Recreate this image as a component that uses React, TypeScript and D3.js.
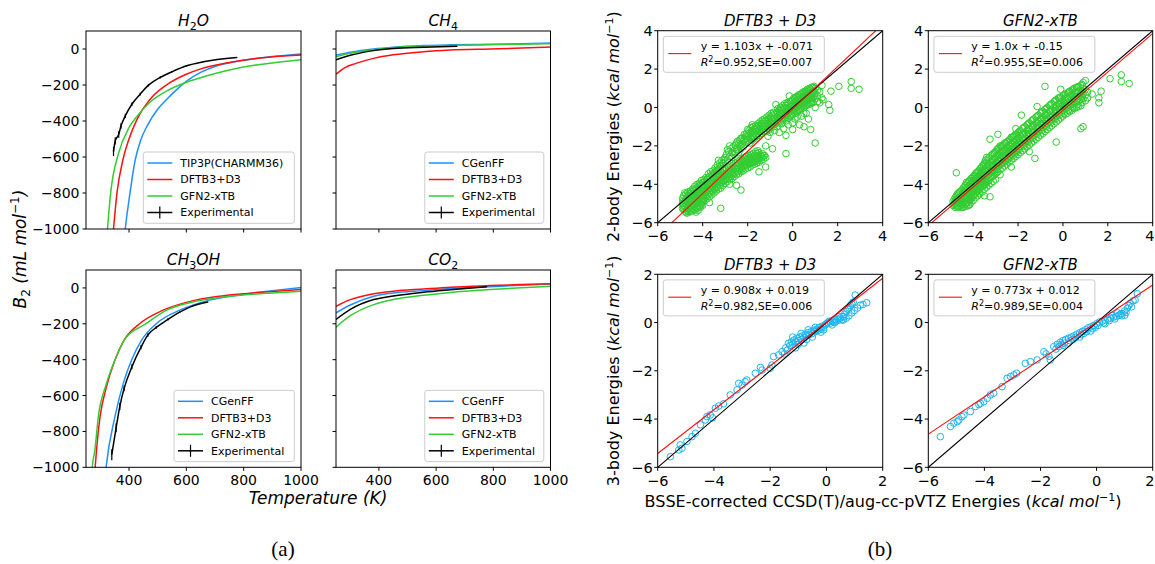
import React from "react";
import * as d3 from "d3";

const FONT = "'DejaVu Sans', sans-serif";

// ---------- Left figure (a): B2 vs temperature ----------
const T_DOMAIN = [250, 1000];
const B2_DOMAIN = [-1000, 100];
const T_TICKS = [400, 600, 800, 1000];
const B2_TICKS = [0, -200, -400, -600, -800, -1000];

const H2O_TIP3P_T = [380, 387, 400, 422, 440, 463, 500, 532, 570, 602, 650, 707, 800, 900, 1000];
const H2O_TIP3P_B = [-1120, -1000, -840, -614, -510, -428, -335, -279, -220, -177, -130, -93, -62, -42, -28];
const H2O_DFTB_T = [340, 346, 358, 379, 400, 428, 474, 544, 600, 648, 750, 850, 1000];
const H2O_DFTB_B = [-1110, -1000, -801, -614, -500, -391, -279, -186, -140, -112, -75, -52, -34];
const H2O_GFN_T = [320, 325, 336, 364, 399, 430, 470, 532, 600, 672, 800, 900, 1000];
const H2O_GFN_B = [-1110, -1000, -801, -577, -440, -370, -300, -233, -185, -149, -100, -78, -60];
const H2O_EXP_T = [346, 352, 364, 372, 387, 410, 439, 468, 509, 549, 601, 659, 776];
const H2O_EXP_B = [-570, -510, -475, -428, -372, -307, -251, -201, -158, -127, -93, -71, -47];
const H2O_EXP_ERR = [25, 20, 18, 15, 12, 10, 8, 7, 6, 5, 4, 3, 3];

const CH4_CGENFF_T = [250, 300, 381, 450, 556, 650, 789, 900, 1000];
const CH4_CGENFF_B = [-34, -18, 0, 10, 19, 23, 26, 29, 33];
const CH4_DFTB_T = [250, 280, 320, 381, 450, 556, 650, 789, 900, 1000];
const CH4_DFTB_B = [-140, -105, -80, -52, -32, -15, -6, 0, 5, 11];
const CH4_GFN_T = [250, 300, 381, 450, 556, 650, 789, 900, 1000];
const CH4_GFN_B = [-43, -24, -4, 7, 16, 20, 24, 27, 29];
const CH4_EXP_T = [250, 300, 381, 450, 556, 673];
const CH4_EXP_B = [-60, -35, -9, 3, 10, 15];
const CH4_EXP_ERR = [2, 2, 2, 2, 2, 2];

const CH3OH_CGENFF_T = [315, 320, 351, 380, 409, 444, 496, 577, 681, 800, 900, 1000];
const CH3OH_CGENFF_B = [-1080, -1000, -718, -532, -402, -291, -198, -124, -68, -35, -15, 2];
const CH3OH_DFTB_T = [278, 282, 288, 299, 320, 351, 383, 438, 519, 632, 750, 900, 1000];
const CH3OH_DFTB_B = [-1080, -1000, -880, -718, -560, -402, -291, -198, -124, -68, -40, -20, -9];
const CH3OH_GFN_T = [270, 272, 281, 293, 320, 351, 383, 461, 531, 632, 750, 900, 1000];
const CH3OH_GFN_B = [-1080, -1000, -904, -718, -540, -402, -291, -198, -124, -75, -47, -28, -19];
const CH3OH_EXP_T = [340, 355, 368, 383, 410, 442, 466, 495, 536, 577, 623, 675];
const CH3OH_EXP_B = [-930, -780, -660, -560, -440, -330, -262, -220, -175, -135, -100, -78];
const CH3OH_EXP_ERR = [30, 25, 20, 16, 14, 12, 10, 8, 6, 5, 4, 3];

const CO2_T = [250, 300, 382, 450, 556, 650, 789, 900, 1000];
const CO2_CGENFF_B = [-139, -95, -46, -28, -15, -3, 7, 15, 22];
const CO2_DFTB_B = [-102, -65, -32, -18, -6, 4, 13, 19, 24];
const CO2_GFN_B = [-219, -155, -93, -65, -41, -25, -9, 1, 9];
const CO2_EXP_T = [250, 300, 382, 450, 556, 650, 777];
const CO2_EXP_B = [-176, -120, -65, -45, -24, -10, 7];
const CO2_EXP_ERR = [2, 2, 2, 2, 2, 2, 2];

const LEGEND_H2O = ["TIP3P(CHARMM36)", "DFTB3+D3", "GFN2-xTB", "Experimental"];
const LEGEND_OTHER = ["CGenFF", "DFTB3+D3", "GFN2-xTB", "Experimental"];

// ---------- Right figure (b): energies scatter ----------
const E_DOMAIN_TOP = [-6, 4];
const E_DOMAIN_BOT = [-6, 2];
const E_TICKS_TOP = [-6, -4, -2, 0, 2, 4];
const E_TICKS_BOT = [-6, -4, -2, 0, 2];

// columns: [x, [y values at that x]]
const DFTB3_2B: [number, number[]][] = [
  [-4.9, [-5.0, -5.25, -4.75]], [-4.8, [-4.45, -4.9, -5.15, -5.4]], [-4.7, [-4.6, -4.85, -5.1, -5.35, -5.5]],
  [-4.6, [-4.5, -4.75, -5.0, -5.25, -5.45]], [-4.5, [-4.4, -4.65, -4.9, -5.15, -5.4]], [-4.4, [-4.3, -4.55, -4.8, -5.05, -5.3]],
  [-4.3, [-4.2, -4.45, -4.7, -4.95, -5.2, -5.45]], [-4.2, [-4.1, -4.35, -4.6, -4.85, -5.1, -5.35]],
  [-4.1, [-4.0, -4.25, -4.5, -4.75, -5.0, -5.2]], [-4.0, [-3.9, -4.15, -4.4, -4.65, -4.9, -5.1]],
  [-3.9, [-3.85, -4.1, -4.35, -4.6, -4.85]], [-3.8, [-3.75, -4.0, -4.25, -4.5, -4.75]],
  [-3.7, [-3.6, -3.9, -4.15, -4.4, -4.65, -4.95]], [-3.6, [-3.5, -3.8, -4.05, -4.3, -4.55]],
  [-3.5, [-3.4, -3.65, -3.95, -4.2, -4.45]], [-3.4, [-3.3, -3.55, -3.85, -4.1, -4.35]],
  [-3.3, [-2.75, -3.2, -3.45, -3.75, -4.0, -4.25]], [-3.2, [-3.05, -3.35, -3.65, -3.9, -4.2, -5.25]],
  [-3.1, [-2.9, -3.2, -3.55, -3.8, -4.05]], [-3.0, [-2.6, -2.85, -3.45, -3.7, -3.95]],
  [-2.9, [-2.2, -2.75, -3.35, -3.6, -3.85]], [-2.8, [-2.0, -2.55, -3.25, -3.5, -3.75, -4.0]],
  [-2.7, [-2.35, -2.6, -3.2, -3.45, -3.7]], [-2.6, [-2.45, -3.1, -3.35, -3.6]],
  [-2.5, [-1.85, -2.2, -3.0, -3.25, -3.5, -4.05]], [-2.4, [-1.9, -2.35, -2.95, -3.2, -3.45]],
  [-2.3, [-1.6, -1.95, -2.15, -2.85, -3.1, -3.35, -4.3]], [-2.2, [-1.75, -2.05, -2.8, -3.05, -3.3]],
  [-2.1, [-1.5, -1.8, -2.7, -2.95, -3.2]], [-2.0, [-1.15, -1.45, -1.7, -2.65, -2.9, -3.15]],
  [-1.9, [-1.3, -1.55, -1.85, -2.6, -2.85, -3.1]], [-1.8, [-0.9, -1.2, -1.45, -1.7, -2.55, -2.8, -3.0]],
  [-1.7, [-1.1, -1.35, -1.6, -2.5, -2.75, -2.95]], [-1.6, [-1.0, -1.25, -1.5, -2.4, -2.65, -2.9]],
  [-1.5, [-0.95, -1.2, -1.45, -2.35, -2.6, -2.85, -3.35]], [-1.4, [-0.85, -1.1, -1.35, -2.55, -2.75]],
  [-1.3, [-0.75, -1.0, -1.25, -2.5, -2.7]], [-1.2, [-0.7, -0.95, -1.2, -2.0, -2.6, -3.1]],
  [-1.1, [-0.6, -0.85, -1.1, -1.5]], [-1.0, [-0.5, -0.75, -1.0, -1.3]], [-0.9, [-0.4, -0.65, -0.9, -2.15]],
  [-0.8, [-0.35, -0.6, -0.85, -1.2]], [-0.75, [0.15]], [-0.7, [-0.25, -0.5, -0.75, -1.0]],
  [-0.6, [-0.15, -0.4, -0.65, -1.3]], [-0.5, [-0.1, -0.35, -0.6, -0.85]], [-0.4, [0.0, -0.25, -0.5, -1.1]],
  [-0.3, [0.1, -0.15, -0.4, -0.7, -1.45, -2.4]], [-0.2, [0.2, -0.05, -0.3, -0.55, -0.9]], [-0.15, [0.6]],
  [-0.1, [0.3, 0.05, -0.2, -0.45]], [0.0, [0.4, 0.15, -0.1, -0.35, -0.8, -1.15]],
  [0.1, [0.45, 0.2, -0.05, -0.3, -0.6]], [0.2, [0.55, 0.3, 0.05, -0.2, -0.5]],
  [0.3, [0.6, 0.35, 0.1, -0.15, -0.9]], [0.4, [0.7, 0.45, 0.2, -0.05, -0.45]],
  [0.5, [0.75, 0.5, 0.25, 0.0, -0.3, -1.0]], [0.6, [0.85, 0.6, 0.35, 0.1, -0.3]],
  [0.7, [0.9, 0.65, 0.4, 0.15, -0.6]], [0.8, [0.95, 0.7, 0.45, 0.2, -1.15]],
  [0.9, [1.05, 0.8, 0.5, 0.25]], [1.0, [1.0, 0.75, 0.45, 0.0, -1.85]], [1.1, [0.9, 0.6, 0.3]],
  [1.2, [0.8, 0.25]], [1.3, [1.15, 0.5]], [1.35, [0.4]], [1.6, [0.15]], [1.65, [-0.15]], [1.7, [0.85]],
  [2.05, [1.1]], [2.6, [1.35, 1.0]], [2.95, [0.95]],
];

const DFTB3_2B_FILL: [number, number[]][] = [
  [-4.85, [-4.6, -4.85, -5.1, -5.3]], [-4.75, [-4.5, -4.75, -5.0, -5.25, -5.45]],
  [-4.65, [-4.4, -4.65, -4.9, -5.15, -5.4]], [-4.55, [-4.35, -4.6, -4.85, -5.1, -5.35]],
  [-4.45, [-4.25, -4.5, -4.75, -5.0, -5.25]], [-4.35, [-4.1, -4.35, -4.6, -4.85, -5.1, -5.35]],
  [-4.25, [-4.0, -4.25, -4.5, -4.75, -5.0, -5.25]], [-4.15, [-3.95, -4.2, -4.45, -4.7, -4.95, -5.15]],
  [-4.05, [-3.8, -4.05, -4.3, -4.55, -4.8, -5.05]], [-3.95, [-3.75, -4.0, -4.25, -4.5, -4.75]],
  [-3.85, [-3.65, -3.9, -4.15, -4.4, -4.65]], [-3.75, [-3.45, -3.75, -4.05, -4.3, -4.55]],
  [-3.65, [-3.35, -3.65, -3.95, -4.2, -4.45]], [-3.55, [-3.3, -3.55, -3.85, -4.1, -4.35]],
  [-3.45, [-3.15, -3.4, -3.75, -4.0, -4.25]], [-3.35, [-3.0, -3.3, -3.65, -3.9, -4.15]],
  [-3.25, [-2.9, -3.15, -3.55, -3.8, -4.05]], [-3.15, [-2.75, -3.0, -3.4, -3.65, -3.9]],
  [-3.05, [-2.7, -3.3, -3.55, -3.8]], [-2.95, [-2.45, -3.25, -3.5, -3.75]],
  [-2.85, [-2.3, -3.15, -3.4, -3.65]], [-2.75, [-2.15, -3.1, -3.35, -3.6]],
  [-2.65, [-2.05, -3.0, -3.25, -3.5]], [-2.55, [-1.95, -2.3, -2.9, -3.15, -3.4]],
  [-2.45, [-1.75, -2.1, -2.85, -3.1, -3.35]], [-2.35, [-1.7, -2.0, -2.75, -3.0, -3.25]],
  [-2.25, [-1.6, -1.9, -2.7, -2.95, -3.2]], [-2.15, [-1.4, -1.65, -2.6, -2.85, -3.05]],
  [-2.05, [-1.35, -1.6, -2.55, -2.8, -3.0]], [-1.95, [-1.2, -1.45, -2.5, -2.75, -2.95]],
  [-1.85, [-1.05, -1.35, -1.6, -2.45, -2.7, -2.9]], [-1.75, [-1.0, -1.25, -1.5, -2.4, -2.65, -2.85]],
  [-1.65, [-0.95, -1.15, -1.4, -2.3, -2.55, -2.8]], [-1.55, [-0.85, -1.1, -1.35, -2.25, -2.5, -2.75]],
  [-1.45, [-0.75, -1.0, -1.25, -2.45, -2.65]], [-1.35, [-0.65, -0.9, -1.15, -2.4, -2.6]],
  [-1.25, [-0.6, -0.85, -1.1, -2.5]], [-1.15, [-0.5, -0.75, -1.0, -1.25]],
  [-1.05, [-0.4, -0.65, -0.9, -1.15]], [-0.95, [-0.3, -0.55, -0.8, -1.05]],
  [-0.85, [-0.25, -0.5, -0.75, -1.0]], [-0.65, [-0.05, -0.3, -0.55, -0.8]],
  [-0.55, [0.0, -0.25, -0.5, -0.75]], [-0.45, [0.1, -0.15, -0.4, -0.65]],
  [-0.35, [0.2, -0.05, -0.3, -0.55]], [-0.25, [0.25, 0.0, -0.25, -0.5]],
  [-0.05, [0.35, 0.1, -0.15, -0.4]], [0.05, [0.5, 0.25, 0.0, -0.25]],
  [0.15, [0.55, 0.3, 0.05, -0.2]], [0.25, [0.65, 0.4, 0.15, -0.1]],
  [0.35, [0.7, 0.45, 0.2, -0.05]], [0.45, [0.8, 0.55, 0.3, 0.05]],
  [0.55, [0.85, 0.6, 0.35, 0.1]], [0.65, [0.95, 0.7, 0.45, 0.2]],
  [0.75, [1.0, 0.75, 0.5, 0.25]], [0.85, [1.05, 0.8, 0.55, 0.3]], [0.95, [1.1, 0.85, 0.6]],
];

const GFN2_2B: [number, number[]][] = [
  [-4.9, [-4.9, -5.1]], [-4.8, [-4.7, -4.95, -5.2]], [-4.75, [-3.4]], [-4.7, [-4.5, -4.75, -5.0, -5.2]],
  [-4.6, [-4.4, -4.65, -4.9, -5.15]], [-4.5, [-4.3, -4.55, -4.8, -5.05, -5.2]],
  [-4.4, [-4.15, -4.4, -4.65, -4.9, -5.15]], [-4.3, [-3.9, -4.2, -4.45, -4.7, -4.95, -5.15]],
  [-4.2, [-3.85, -4.1, -4.35, -4.6, -4.85, -5.1]], [-4.1, [-3.7, -3.95, -4.2, -4.45, -4.7, -4.95]],
  [-4.0, [-3.6, -3.85, -4.1, -4.35, -4.6, -4.85]], [-3.9, [-3.45, -3.7, -3.95, -4.2, -4.45, -4.7]],
  [-3.8, [-3.35, -3.6, -3.85, -4.1, -4.35, -4.6]], [-3.7, [-3.2, -3.5, -3.75, -4.0, -4.25, -4.5]],
  [-3.6, [-3.05, -3.3, -3.6, -3.85, -4.1, -4.4]], [-3.5, [-2.9, -3.2, -3.45, -3.75, -4.0, -4.25, -4.6]],
  [-3.4, [-2.6, -2.85, -3.1, -3.35, -3.6, -3.9, -4.15]], [-3.3, [-2.6, -2.95, -3.25, -3.5, -3.8, -4.05]],
  [-3.25, [-1.65, -4.65]], [-3.2, [-2.5, -2.85, -3.1, -3.4, -3.65, -3.95]],
  [-3.1, [-2.4, -2.7, -3.0, -3.3, -3.55, -3.85]], [-3.0, [-2.3, -2.6, -2.9, -3.15, -3.45, -3.75]],
  [-2.9, [-1.4, -2.15, -2.5, -2.8, -3.05, -3.35]], [-2.8, [-2.0, -2.35, -2.65, -2.95, -3.25, -3.5]],
  [-2.7, [-2.05, -2.3, -2.55, -2.85, -3.15]], [-2.6, [-1.85, -2.2, -2.45, -2.75, -3.05]],
  [-2.5, [-1.8, -2.1, -2.35, -2.65, -2.95]], [-2.4, [-1.7, -2.0, -2.25, -2.55, -2.85]],
  [-2.3, [-1.55, -1.9, -2.15, -2.45, -2.75, -3.1]], [-2.2, [-1.5, -1.8, -2.05, -2.35, -2.65]],
  [-2.1, [-1.1, -1.4, -1.7, -1.95, -2.25, -2.55]], [-2.0, [-1.3, -1.6, -1.85, -2.15, -2.45]],
  [-1.9, [-1.2, -1.5, -1.75, -2.05, -2.35]], [-1.85, [-0.4]], [-1.8, [-1.1, -1.4, -1.65, -1.95, -2.25]],
  [-1.7, [-1.0, -1.3, -1.55, -1.85, -2.15]], [-1.6, [-0.9, -1.2, -1.45, -1.75, -2.05]],
  [-1.5, [-0.8, -1.1, -1.35, -1.65, -1.95, -2.3]], [-1.4, [-0.7, -1.0, -1.25, -1.55, -1.85]],
  [-1.3, [-0.6, -0.9, -1.15, -1.45, -1.75]], [-1.25, [-2.65]], [-1.2, [-0.5, -0.8, -1.05, -1.35, -1.65]],
  [-1.15, [0.05]], [-1.1, [-0.4, -0.7, -0.95, -1.25, -1.55]], [-1.0, [-0.3, -0.6, -0.85, -1.15, -1.45]],
  [-0.9, [-0.2, -0.5, -0.75, -1.05, -1.35]], [-0.8, [1.1, -0.1, -0.4, -0.65, -0.95, -1.25]],
  [-0.7, [0.0, -0.3, -0.55, -0.85, -1.15]], [-0.6, [0.1, -0.2, -0.45, -0.75, -1.05]],
  [-0.5, [0.2, -0.1, -0.35, -0.65, -0.95]], [-0.4, [0.3, 0.0, -0.25, -0.55, -0.85]],
  [-0.3, [0.4, 0.1, -0.15, -0.45, -0.75, -1.8]], [-0.2, [0.5, 0.2, -0.05, -0.35, -0.65]],
  [-0.1, [0.95, 0.55, 0.3, 0.05, -0.25, -0.55]], [0.0, [0.6, 0.35, 0.1, -0.15, -0.45]],
  [0.1, [0.7, 0.45, 0.2, -0.05, -0.35]], [0.2, [0.75, 0.5, 0.25, 0.0, -0.3]],
  [0.3, [0.85, 0.6, 0.35, 0.1, -0.2]], [0.4, [0.9, 0.65, 0.4, 0.15, -0.15]],
  [0.5, [1.0, 0.75, 0.5, 0.25, -0.05]], [0.6, [1.05, 0.8, 0.55, 0.3, 0.0]],
  [0.7, [1.1, 0.85, 0.6, 0.35, 0.05]], [0.8, [1.15, 0.9, 0.65, 0.4, 0.1, -1.1]],
  [0.9, [1.3, 1.0, 0.7, 0.45, -1.0]], [1.0, [1.4, 0.95, 0.65, 0.35]], [1.1, [0.8, 0.5]],
  [1.3, [0.7]], [1.6, [0.5, 0.25]], [1.7, [0.85]], [2.1, [1.5]], [2.6, [1.7, 1.35]], [2.95, [1.25]],
];

const GFN2_2B_FILL: [number, number[]][] = [
  [-4.85, [-4.8, -5.05]], [-4.75, [-4.6, -4.85, -5.1]], [-4.65, [-4.45, -4.7, -4.95, -5.2]],
  [-4.55, [-4.35, -4.6, -4.85, -5.1]], [-4.45, [-4.2, -4.45, -4.7, -4.95, -5.2]],
  [-4.35, [-4.05, -4.3, -4.55, -4.8, -5.05]], [-4.25, [-3.95, -4.2, -4.45, -4.7, -4.95]],
  [-4.15, [-3.8, -4.05, -4.3, -4.55, -4.8, -5.05]], [-4.05, [-3.7, -3.95, -4.2, -4.45, -4.7]],
  [-3.95, [-3.55, -3.8, -4.05, -4.3, -4.55]], [-3.85, [-3.4, -3.65, -3.9, -4.15, -4.4]],
  [-3.75, [-3.3, -3.55, -3.8, -4.05, -4.3]], [-3.65, [-3.15, -3.4, -3.65, -3.9, -4.15]],
  [-3.55, [-3.0, -3.3, -3.55, -3.8, -4.1]], [-3.45, [-2.75, -3.0, -3.25, -3.5, -3.75, -4.0]],
  [-3.35, [-2.7, -3.0, -3.3, -3.55, -3.85]], [-3.15, [-2.45, -2.75, -3.05, -3.35, -3.6]],
  [-3.05, [-2.35, -2.65, -2.95, -3.25, -3.5]], [-2.95, [-2.2, -2.55, -2.85, -3.1, -3.4]],
  [-2.85, [-2.1, -2.45, -2.75, -3.05]], [-2.75, [-2.0, -2.4, -2.7, -2.95]],
  [-2.65, [-1.95, -2.3, -2.6, -2.9]], [-2.55, [-1.85, -2.2, -2.5, -2.8]],
  [-2.45, [-1.75, -2.1, -2.4, -2.7]], [-2.35, [-1.65, -2.0, -2.3, -2.6]],
  [-2.25, [-1.55, -1.9, -2.2, -2.5]], [-2.15, [-1.45, -1.8, -2.1, -2.4]],
  [-2.05, [-1.4, -1.7, -2.0, -2.3]], [-1.95, [-1.25, -1.6, -1.9, -2.2]],
  [-1.75, [-1.05, -1.4, -1.7, -2.0]], [-1.55, [-0.85, -1.2, -1.5, -1.8]],
  [-1.35, [-0.65, -1.0, -1.3, -1.6]], [-1.15, [-0.45, -0.8, -1.1, -1.4]],
  [-0.95, [-0.25, -0.6, -0.9, -1.2]], [-0.75, [-0.05, -0.4, -0.7, -1.0]],
  [-0.55, [0.15, -0.2, -0.5, -0.8]], [-0.35, [0.35, 0.0, -0.3, -0.6]],
  [-0.15, [0.5, 0.2, -0.1, -0.4]], [0.05, [0.65, 0.3, 0.0, -0.3]],
  [0.25, [0.8, 0.45, 0.15, -0.15]], [0.45, [0.95, 0.6, 0.3, 0.0]],
  [0.65, [1.05, 0.75, 0.45, 0.15]], [0.85, [1.2, 0.8, 0.55, 0.25]],
];

const DFTB3_3B: [number, number][] = [
  [-5.55, -5.56], [-5.25, -5.28], [-5.14, -5.21], [-5.2, -5.07], [-4.96, -4.93], [-4.78, -4.73], [-4.66, -4.59],
  [-4.48, -4.24], [-4.31, -4.04], [-4.25, -3.9], [-4.13, -3.83], [-4.05, -3.95], [-3.95, -3.55], [-3.83, -3.46],
  [-3.66, -3.37], [-3.42, -3.0], [-3.18, -2.79], [-3.12, -2.52], [-3.0, -2.59], [-2.89, -2.45], [-2.83, -2.38],
  [-2.53, -2.1], [-2.35, -1.86], [-2.29, -1.97], [-2.0, -1.9], [-1.94, -1.76], [-1.88, -1.41], [-1.7, -1.34],
  [-1.58, -1.21], [-1.5, -1.3], [-1.45, -1.05], [-1.35, -0.86], [-1.3, -0.95], [-1.25, -0.8], [-1.2, -0.9],
  [-1.15, -0.72], [-1.1, -0.8], [-1.05, -0.65], [-1.0, -0.75], [-0.95, -0.6], [-0.9, -0.7], [-0.85, -0.55],
  [-0.8, -0.62], [-0.75, -0.48], [-0.7, -0.55], [-0.65, -0.42], [-0.6, -0.5], [-0.55, -0.38], [-0.5, -0.45],
  [-0.45, -0.32], [-0.4, -0.38], [-0.35, -0.28], [-0.3, -0.33], [-0.25, -0.2], [-0.2, -0.27], [-0.15, -0.15],
  [-0.1, -0.2], [-0.05, -0.1], [0.0, -0.05], [0.05, 0.0], [0.1, 0.05], [0.15, -0.02], [0.2, 0.08], [0.25, 0.02],
  [0.3, 0.12], [0.35, 0.06], [0.4, 0.15], [0.45, 0.1], [0.5, 0.2], [0.55, 0.12], [0.6, 0.25], [0.65, 0.35],
  [0.7, 0.45], [0.75, 0.55], [0.8, 0.6], [0.85, 0.7], [0.9, 0.78], [0.95, 0.85], [1.02, 1.14], [0.7, 0.18],
  [0.8, 0.28], [0.9, 0.4], [1.0, 0.5], [1.1, 0.6], [1.2, 0.72], [1.43, 0.82], [0.6, 0.1], [0.3, 0.0],
  [-0.2, -0.4], [-0.5, -0.6], [-0.8, -0.85], [-1.1, -1.05], [-0.65, -0.3], [-0.9, -0.45], [-1.2, -0.6],
  [-1.4, -1.15], [-1.0, -0.9], [-0.7, -0.7], [-0.4, -0.2], [-0.1, -0.3], [0.2, -0.1], [0.45, 0.25], [1.3, 0.75],
];

const GFN2_3B: [number, number][] = [
  [-5.57, -4.73], [-5.21, -4.31], [-5.09, -4.17], [-4.97, -4.11], [-4.91, -4.04], [-4.8, -3.9], [-4.73, -3.83],
  [-4.5, -3.69], [-4.32, -3.48], [-4.2, -3.4], [-4.14, -3.35], [-4.02, -3.28], [-3.9, -3.14], [-3.79, -3.0],
  [-3.67, -2.93], [-3.37, -2.66], [-3.19, -2.31], [-3.07, -2.24], [-2.95, -2.17], [-2.85, -2.1], [-2.54, -1.69],
  [-2.36, -1.62], [-2.12, -1.55], [-1.88, -1.21], [-1.8, -1.3], [-1.65, -1.55], [-1.7, -1.4], [-1.53, -1.0],
  [-1.45, -1.1], [-1.4, -0.9], [-1.35, -1.0], [-1.3, -0.82], [-1.25, -0.9], [-1.2, -0.75], [-1.15, -0.85],
  [-1.1, -0.7], [-1.0, -0.65], [-0.95, -0.75], [-0.9, -0.6], [-0.8, -0.55], [-0.75, -0.62], [-0.7, -0.48],
  [-0.6, -0.42], [-0.55, -0.5], [-0.5, -0.36], [-0.4, -0.3], [-0.35, -0.38], [-0.3, -0.22], [-0.2, -0.18],
  [-0.15, -0.25], [-0.1, -0.12], [0.0, -0.05], [0.05, -0.12], [0.1, 0.02], [0.2, 0.05], [0.25, -0.02],
  [0.3, 0.1], [0.4, 0.14], [0.45, 0.08], [0.5, 0.18], [0.6, 0.22], [0.65, 0.15], [0.7, 0.26], [0.8, 0.3],
  [0.85, 0.35], [0.9, 0.38], [1.0, 0.48], [1.05, 0.42], [1.1, 0.6], [1.15, 0.7], [1.2, 0.8], [1.3, 0.9],
  [1.37, 0.93], [1.45, 1.2], [1.0, 0.3], [0.9, 0.28], [-0.6, -0.6], [-1.0, -0.85], [-0.2, -0.35], [0.3, -0.05],
  [-1.2, -0.95], [-0.85, -0.7], [-0.45, -0.45], [-0.05, -0.2], [0.55, 0.3], [0.75, 0.4], [1.25, 0.65],
];

const FIT_DFTB3_2B = { slope: 1.103, intercept: -0.071, line1: "y = 1.103x + -0.071", r2: "0.952", se: "0.007" };
const FIT_GFN2_2B = { slope: 1.0, intercept: -0.15, line1: "y = 1.0x + -0.15", r2: "0.955", se: "0.006" };
const FIT_DFTB3_3B = { slope: 0.908, intercept: 0.019, line1: "y = 0.908x + 0.019", r2: "0.982", se: "0.006" };
const FIT_GFN2_3B = { slope: 0.773, intercept: 0.012, line1: "y = 0.773x + 0.012", r2: "0.989", se: "0.004" };

const C_BLUE = "#1e90ff";
const C_RED = "#ff1010";
const C_GREEN = "#32cd32";
const C_CYAN = "#1cb6f0";

const fmt = (v: number) => (v < 0 ? "\u2212" + Math.abs(v) : String(v));
const zip = (a: number[], b: number[]) => a.map((v, i) => [v, b[i]] as [number, number]);

type Series = { pts: [number, number][]; color: string };

function LinePanel(props: {
  id: string; L: number; T: number; W: number; H: number; title: React.ReactNode;
  series: Series[]; exp: { t: number[]; b: number[]; err: number[] }; labels: string[];
  showX: boolean; showY: boolean; legW: number;
}) {
  const { id, L, T, W, H, title, series, exp, labels, showX, showY, legW } = props;
  const x = d3.scaleLinear().domain(T_DOMAIN).range([0, W]);
  const y = d3.scaleLinear().domain(B2_DOMAIN).range([H, 0]);
  const line = d3.line<[number, number]>().x((d) => x(d[0])).y((d) => y(d[1])).curve(d3.curveMonotoneX);
  const legH = 71.3;
  const lx = W - 6.7 - legW;
  const ly = H - 5.7 - legH;
  const colors = [...series.map((s) => s.color), "#000"];
  return (
    <g transform={`translate(${L},${T})`}>
      <defs>
        <clipPath id={id}><rect x={0} y={0} width={W} height={H} /></clipPath>
      </defs>
      <g clipPath={`url(#${id})`}>
        {series.map((s, i) => (
          <path key={i} d={line(s.pts) || ""} fill="none" stroke={s.color} strokeWidth={1.5} />
        ))}
        <path d={line(zip(exp.t, exp.b)) || ""} fill="none" stroke="#000" strokeWidth={1.5} />
        {exp.t.map((t, i) => (
          <line key={i} x1={x(t)} x2={x(t)} y1={y(exp.b[i] - exp.err[i])} y2={y(exp.b[i] + exp.err[i])} stroke="#000" strokeWidth={1.2} />
        ))}
      </g>
      <rect x={0} y={0} width={W} height={H} fill="none" stroke="#000" strokeWidth={1} />
      {T_TICKS.map((t) => (
        <g key={t} transform={`translate(${x(t)},${H})`}>
          <line y1={0} y2={3.5} stroke="#000" />
          {showX && <text y={18} textAnchor="middle" fontSize={14} fontFamily={FONT}>{fmt(t)}</text>}
        </g>
      ))}
      {B2_TICKS.map((b) => (
        <g key={b} transform={`translate(0,${y(b)})`}>
          <line x1={0} x2={-3.5} stroke="#000" />
          {showY && <text x={-6.5} dy="0.36em" textAnchor="end" fontSize={14} fontFamily={FONT}>{fmt(b)}</text>}
        </g>
      ))}
      <text x={W / 2} y={-5.5} textAnchor="middle" fontSize={15.5} fontFamily={FONT}>{title}</text>
      <g transform={`translate(${lx},${ly})`}>
        <rect x={0} y={0} width={legW} height={legH} rx={2.5} fill="#fff" fillOpacity={0.8} stroke="#cccccc" />
        {labels.map((lab, i) => {
          const cy = 11 + i * 16.5;
          return (
            <g key={lab}>
              <line x1={4} x2={29} y1={cy} y2={cy} stroke={colors[i]} strokeWidth={1.5} />
              {i === 3 && <line x1={16.5} x2={16.5} y1={cy - 6} y2={cy + 6} stroke="#000" strokeWidth={1.2} />}
              <text x={37} y={cy} dy="0.36em" fontSize={11} fontFamily={FONT}>{lab}</text>
            </g>
          );
        })}
      </g>
    </g>
  );
}

function ScatterPanel(props: {
  id: string; L: number; T: number; W: number; H: number; title: string;
  pts: [number, number][]; color: string; domain: number[]; ticks: number[];
  fit: { slope: number; intercept: number; line1: string; r2: string; se: string };
  edgeRight?: boolean;
}) {
  const { id, L, T, W, H, title, pts, color, domain, ticks, fit, edgeRight } = props;
  const x = d3.scaleLinear().domain(domain).range([0, W]);
  const y = d3.scaleLinear().domain(domain).range([H, 0]);
  const [d0, d1] = domain;
  return (
    <g transform={`translate(${L},${T})`}>
      <defs>
        <clipPath id={id}><rect x={0} y={0} width={W} height={H} /></clipPath>
      </defs>
      <g clipPath={`url(#${id})`}>
        {pts.map((p, i) => (
          <circle key={i} cx={x(p[0])} cy={y(p[1])} r={3.3} fill="none" stroke={color} strokeWidth={1} />
        ))}
        <line x1={x(d0)} y1={y(d0)} x2={x(d1)} y2={y(d1)} stroke="#000" strokeWidth={1.1} />
        <line x1={x(d0)} y1={y(fit.slope * d0 + fit.intercept)} x2={x(d1)} y2={y(fit.slope * d1 + fit.intercept)} stroke={C_RED} strokeWidth={1.1} />
      </g>
      <rect x={0} y={0} width={W} height={H} fill="none" stroke="#000" strokeWidth={1} />
      {ticks.map((t, i) => {
        const last = edgeRight && i === ticks.length - 1;
        return (
          <g key={"x" + t} transform={`translate(${x(t)},${H})`}>
            <line y1={0} y2={3.5} stroke="#000" />
            <text x={last ? 1.8 : 0} y={18.5} textAnchor={last ? "end" : "middle"} fontSize={14.5} fontFamily={FONT}>{fmt(t)}</text>
          </g>
        );
      })}
      {ticks.map((t) => (
        <g key={"y" + t} transform={`translate(0,${y(t)})`}>
          <line x1={0} x2={-3.5} stroke="#000" />
          <text x={-5} dy="0.36em" textAnchor="end" fontSize={14.5} fontFamily={FONT}>{fmt(t)}</text>
        </g>
      ))}
      <text x={W / 2} y={-4.7} textAnchor="middle" fontSize={15} fontStyle="italic" fontFamily={FONT}>{title}</text>
      <g transform="translate(5.6,5.6)">
        <rect x={0} y={0} width={161} height={36} rx={2.5} fill="#fff" fillOpacity={0.8} stroke="#cccccc" />
        <line x1={5} x2={28} y1={17.3} y2={17.3} stroke={C_RED} strokeWidth={1.1} />
        <text x={37.4} y={14} fontSize={11} fontFamily={FONT}>{fit.line1}</text>
        <text x={37.4} y={29.7} fontSize={11} fontFamily={FONT}>
          <tspan fontStyle="italic">R</tspan>
          <tspan dy={-4} fontSize={8}>2</tspan>
          <tspan dy={4}>{`=${fit.r2},SE=${fit.se}`}</tspan>
        </text>
      </g>
    </g>
  );
}

const expand = (cols: [number, number[]][]) => cols.flatMap(([xv, ys]) => ys.map((yv) => [xv, yv] as [number, number]));

function Sub({ main, sub, after }: { main: string; sub: string; after?: string }) {
  return (
    <>
      <tspan fontStyle="italic">{main}</tspan>
      <tspan dy={4} fontSize={11}>{sub}</tspan>
      {after && <tspan dy={-4} fontStyle="italic">{after}</tspan>}
    </>
  );
}

export default function App() {
  return (
    <svg width={1155} height={564} style={{ position: "absolute", left: 0, top: 0, background: "#fff" }}>
      <rect x={0} y={0} width={1155} height={564} fill="#fff" />
      <LinePanel id="c1" L={86} T={31} W={215} H={198} title={<Sub main="H" sub="2" after="O" />}
        series={[
          { pts: zip(H2O_TIP3P_T, H2O_TIP3P_B), color: C_BLUE },
          { pts: zip(H2O_DFTB_T, H2O_DFTB_B), color: C_RED },
          { pts: zip(H2O_GFN_T, H2O_GFN_B), color: C_GREEN },
        ]}
        exp={{ t: H2O_EXP_T, b: H2O_EXP_B, err: H2O_EXP_ERR }} labels={LEGEND_H2O} showX={false} showY={true} legW={151} />
      <LinePanel id="c2" L={336} T={31} W={214.5} H={198} title={<Sub main="CH" sub="4" />}
        series={[
          { pts: zip(CH4_CGENFF_T, CH4_CGENFF_B), color: C_BLUE },
          { pts: zip(CH4_DFTB_T, CH4_DFTB_B), color: C_RED },
          { pts: zip(CH4_GFN_T, CH4_GFN_B), color: C_GREEN },
        ]}
        exp={{ t: CH4_EXP_T, b: CH4_EXP_B, err: CH4_EXP_ERR }} labels={LEGEND_OTHER} showX={false} showY={false} legW={119} />
      <LinePanel id="c3" L={86} T={270} W={215} H={197.3}
        title={<><tspan fontStyle="italic">CH</tspan><tspan dy={4} fontSize={11}>3</tspan><tspan dy={-4} fontStyle="italic">OH</tspan></>}
        series={[
          { pts: zip(CH3OH_CGENFF_T, CH3OH_CGENFF_B), color: C_BLUE },
          { pts: zip(CH3OH_DFTB_T, CH3OH_DFTB_B), color: C_RED },
          { pts: zip(CH3OH_GFN_T, CH3OH_GFN_B), color: C_GREEN },
        ]}
        exp={{ t: CH3OH_EXP_T, b: CH3OH_EXP_B, err: CH3OH_EXP_ERR }} labels={LEGEND_OTHER} showX={true} showY={true} legW={120.3} />
      <LinePanel id="c4" L={336} T={270} W={214.5} H={197.3} title={<Sub main="CO" sub="2" />}
        series={[
          { pts: zip(CO2_T, CO2_CGENFF_B), color: C_BLUE },
          { pts: zip(CO2_T, CO2_DFTB_B), color: C_RED },
          { pts: zip(CO2_T, CO2_GFN_B), color: C_GREEN },
        ]}
        exp={{ t: CO2_EXP_T, b: CO2_EXP_B, err: CO2_EXP_ERR }} labels={LEGEND_OTHER} showX={true} showY={false} legW={119} />

      <text transform="translate(26,249) rotate(-90)" textAnchor="middle" fontSize={17} fontFamily={FONT} fontStyle="italic">
        B<tspan dy={4} fontSize={12} fontStyle="normal">2</tspan>
        <tspan dy={-4}> (mL mol</tspan>
        <tspan dy={-7} fontSize={12} fontStyle="normal">{"\u22121"}</tspan>
        <tspan dy={7}>)</tspan>
      </text>
      <text x={318} y={504} textAnchor="middle" fontSize={17} fontFamily={FONT} fontStyle="italic">Temperature (K)</text>

      <ScatterPanel id="s1" L={657.7} T={30.7} W={225} H={192} title="DFTB3 + D3"
        pts={[...expand(DFTB3_2B), ...expand(DFTB3_2B_FILL)]} color={C_GREEN}
        domain={E_DOMAIN_TOP} ticks={E_TICKS_TOP} fit={FIT_DFTB3_2B} />
      <ScatterPanel id="s2" L={928.3} T={30.7} W={224.4} H={192} title="GFN2-xTB"
        pts={[...expand(GFN2_2B), ...expand(GFN2_2B_FILL)]} color={C_GREEN}
        domain={E_DOMAIN_TOP} ticks={E_TICKS_TOP} fit={FIT_GFN2_2B} edgeRight />
      <ScatterPanel id="s3" L={657.7} T={274.3} W={225} H={193} title="DFTB3 + D3" pts={DFTB3_3B} color={C_CYAN}
        domain={E_DOMAIN_BOT} ticks={E_TICKS_BOT} fit={FIT_DFTB3_3B} />
      <ScatterPanel id="s4" L={928.3} T={274.3} W={224.4} H={193} title="GFN2-xTB" pts={GFN2_3B} color={C_CYAN}
        domain={E_DOMAIN_BOT} ticks={E_TICKS_BOT} fit={FIT_GFN2_3B} edgeRight />

      <text transform="translate(619,126.7) rotate(-90)" textAnchor="middle" fontSize={16} fontFamily={FONT}>
        2-body Energies (<tspan fontStyle="italic">kcal mol</tspan>
        <tspan dy={-6} fontSize={11}>{"\u22121"}</tspan>
        <tspan dy={6}>)</tspan>
      </text>
      <text transform="translate(619,370.8) rotate(-90)" textAnchor="middle" fontSize={16} fontFamily={FONT}>
        3-body Energies (<tspan fontStyle="italic">kcal mol</tspan>
        <tspan dy={-6} fontSize={11}>{"\u22121"}</tspan>
        <tspan dy={6}>)</tspan>
      </text>
      <text x={883} y={507} textAnchor="middle" fontSize={16} fontFamily={FONT}>
        BSSE-corrected CCSD(T)/aug-cc-pVTZ Energies (<tspan fontStyle="italic">kcal mol</tspan>
        <tspan dy={-6} fontSize={11}>{"\u22121"}</tspan>
        <tspan dy={6}>)</tspan>
      </text>

      <text x={283} y={556} textAnchor="middle" fontSize={21} fontFamily="'Liberation Serif', serif">(a)</text>
      <text x={880} y={556} textAnchor="middle" fontSize={21} fontFamily="'Liberation Serif', serif">(b)</text>
    </svg>
  );
}
